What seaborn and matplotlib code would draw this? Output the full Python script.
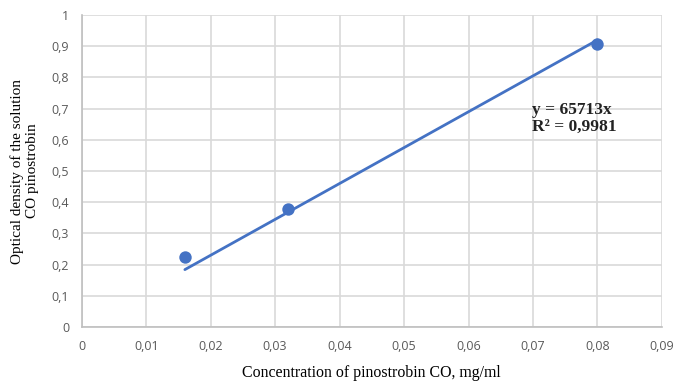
import numpy as np
import pandas as pd
import matplotlib
matplotlib.use("Agg")
import matplotlib.pyplot as plt
import seaborn as sns

# measured points
concentration = [0.016, 0.032, 0.08]
optical_density = [0.225, 0.378, 0.908]

x_ticks = [0, 0.01, 0.02, 0.03, 0.04, 0.05, 0.06, 0.07, 0.08, 0.09]
y_ticks = [0, 0.1, 0.2, 0.3, 0.4, 0.5, 0.6, 0.7, 0.8, 0.9, 1]

equation_text = "y = 65713x\nR² = 0,9981"

BLUE = "#4472C4"
GRID = "#D9D9D9"
TICK = "#595959"

sns.set_theme(style="white")

df = pd.DataFrame({"x": concentration, "y": optical_density})

# linear trend through origin (least squares)
x_arr = np.array(concentration)
y_arr = np.array(optical_density)
slope = (x_arr * y_arr).sum() / (x_arr ** 2).sum()
trend = pd.DataFrame({"x": [x_arr.min(), x_arr.max()]})
trend["y"] = slope * trend["x"]

fig = plt.figure(figsize=(6.81, 3.87), dpi=100)
ax = fig.add_axes([0.120, 0.155, 0.852, 0.806])

sns.lineplot(data=trend, x="x", y="y", ax=ax, color=BLUE, linewidth=2.0, zorder=3)
sns.scatterplot(data=df, x="x", y="y", ax=ax, color=BLUE, s=80, edgecolor=BLUE,
                linewidth=0, zorder=4)

ax.set_xlim(0, 0.09)
ax.set_ylim(0, 1)
ax.set_xticks(x_ticks)
ax.set_yticks(y_ticks)
ax.set_xticklabels(["0" if v == 0 else f"{v:.2f}".replace(".", ",") for v in x_ticks])
ax.set_yticklabels(["0" if v == 0 else ("1" if v == 1 else f"{v:.1f}".replace(".", ","))
                    for v in y_ticks])
ax.tick_params(axis="both", length=0, labelsize=9, labelcolor=TICK, pad=9)
for lab in ax.get_xticklabels() + ax.get_yticklabels():
    lab.set_family("Open Sans")

ax.grid(True, color=GRID, linewidth=1.2)
ax.set_axisbelow(True)
for side in ["top", "right"]:
    ax.spines[side].set_visible(False)
for side in ["left", "bottom"]:
    ax.spines[side].set_color("#BFBFBF")
    ax.spines[side].set_linewidth(1.2)

ax.set_xlabel("Concentration of pinostrobin CO, mg/ml", family="Liberation Serif",
              fontsize=11.4, color="black", labelpad=9)
ax.set_ylabel("Optical density of the solution\nCO pinostrobin", family="Liberation Serif",
              fontsize=11, color="black", labelpad=9, linespacing=1.2)

ax.text(0.0698, 0.72, equation_text, family="Liberation Serif", fontweight="bold",
        fontsize=12.5, ha="left", va="top", linespacing=1.0, color="#222222")

fig.savefig("out.png", dpi=100)
